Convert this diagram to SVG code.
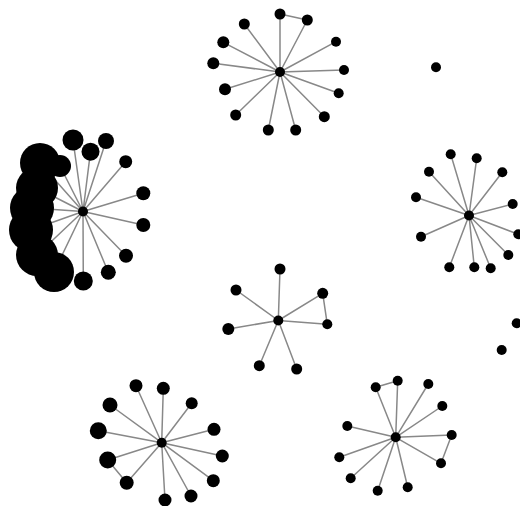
<svg xmlns="http://www.w3.org/2000/svg" width="520" height="506" viewBox="0 0 520 506">
<style>
.e{stroke:#888;stroke-width:1.5;fill:none}
.n circle{fill:#000}
</style>
<rect width="520" height="506" fill="#fff"/>
<g id="edges" class="e">
<path d="M280,72L280,14M280,72L307.3,20M280,14L307.3,20M280,72L244.3,24M280,72L336,41.7M280,72L223.3,42.3M280,72L213.3,63.3M280,72L344,70M280,72L225,89.3M280,72L338.7,93.3M280,72L235.7,115M280,72L324.3,116.7M280,72L268.3,130M280,72L295.7,130"/>
<path d="M83,211.5L73,140M83,211.5L106,141M83,211.5L90.5,151.7M83,211.5L125.7,161.7M83,211.5L143.3,193.3M83,211.5L143.3,225M83,211.5L126,255.7M83,211.5L108.3,272.3M83,211.5L83.3,281M83,211.5L40,163M83,211.5L60,166M83,211.5L37,188M83,211.5L32,208M83,211.5L31,230M83,211.5L37,255M83,211.5L54,272"/>
<path d="M469,215.5L450.7,154.3M469,215.5L476.7,158.3M469,215.5L429,171.7M469,215.5L502.3,172.3M469,215.5L416,197.3M469,215.5L512.7,204M469,215.5L421,236.7M469,215.5L518.3,234.3M469,215.5L508.3,255M469,215.5L449.3,267.3M469,215.5L474.3,267.3M469,215.5L490.7,268.3"/>
<path d="M278.3,320.5L280,269M278.3,320.5L236,290M278.3,320.5L322.7,293.3M278.3,320.5L327.3,324.3M322.7,293.3L327.3,324.3M278.3,320.5L228.3,329M278.3,320.5L259.3,365.7M278.3,320.5L296.7,369"/>
<path d="M161.7,442.7L136,385.7M161.7,442.7L163.3,388.3M161.7,442.7L191.7,403.3M161.7,442.7L110,405M161.7,442.7L214,429.3M161.7,442.7L98.3,430.7M161.7,442.7L222.3,456M161.7,442.7L107.7,460M161.7,442.7L126.7,482.7M107.7,460L126.7,482.7M161.7,442.7L213.3,480.7M161.7,442.7L191,496M161.7,442.7L165,500"/>
<path d="M395.7,437.3L397.7,380.7M395.7,437.3L375.7,387.3M375.7,387.3L397.7,380.7M395.7,437.3L428.3,384M395.7,437.3L442.3,406M395.7,437.3L347.3,426M395.7,437.3L451.7,435M395.7,437.3L339.3,457.3M395.7,437.3L441,463.3M441,463.3L451.7,435M395.7,437.3L350.7,478.3M395.7,437.3L377.7,490.7M395.7,437.3L407.7,487.3"/>
</g>
<g id="cluster-top" class="n">
<circle cx="280" cy="72" r="5"/>
<circle cx="280" cy="14" r="5.5"/>
<circle cx="307.3" cy="20" r="5.5"/>
<circle cx="244.3" cy="24" r="5.5"/>
<circle cx="336" cy="41.7" r="5"/>
<circle cx="223.3" cy="42.3" r="6"/>
<circle cx="213.3" cy="63.3" r="6"/>
<circle cx="344" cy="70" r="5"/>
<circle cx="225" cy="89.3" r="6"/>
<circle cx="338.7" cy="93.3" r="5"/>
<circle cx="235.7" cy="115" r="5.5"/>
<circle cx="324.3" cy="116.7" r="5.5"/>
<circle cx="268.3" cy="130" r="5.5"/>
<circle cx="295.7" cy="130" r="5.5"/>
</g>
<g id="cluster-left" class="n">
<circle cx="83" cy="211.5" r="5"/>
<circle cx="40" cy="163" r="20"/>
<circle cx="60" cy="166" r="11"/>
<circle cx="37" cy="188" r="21"/>
<circle cx="32" cy="208" r="22"/>
<circle cx="31" cy="230" r="22"/>
<circle cx="37" cy="255" r="21"/>
<circle cx="54" cy="272" r="20"/>
<circle cx="73" cy="140" r="10.5"/>
<circle cx="106" cy="141" r="8"/>
<circle cx="90.5" cy="151.7" r="9"/>
<circle cx="125.7" cy="161.7" r="6.5"/>
<circle cx="143.3" cy="193.3" r="7"/>
<circle cx="143.3" cy="225" r="7"/>
<circle cx="126" cy="255.7" r="7"/>
<circle cx="108.3" cy="272.3" r="7.5"/>
<circle cx="83.3" cy="281" r="9.5"/>
</g>
<g id="cluster-right" class="n">
<circle cx="469" cy="215.5" r="5"/>
<circle cx="450.7" cy="154.3" r="5"/>
<circle cx="476.7" cy="158.3" r="5"/>
<circle cx="429" cy="171.7" r="5"/>
<circle cx="502.3" cy="172.3" r="5"/>
<circle cx="416" cy="197.3" r="5"/>
<circle cx="512.7" cy="204" r="5"/>
<circle cx="421" cy="236.7" r="5"/>
<circle cx="518.3" cy="234.3" r="5"/>
<circle cx="508.3" cy="255" r="5"/>
<circle cx="449.3" cy="267.3" r="5"/>
<circle cx="474.3" cy="267.3" r="5"/>
<circle cx="490.7" cy="268.3" r="5"/>
</g>
<g id="cluster-middle" class="n">
<circle cx="278.3" cy="320.5" r="5"/>
<circle cx="280" cy="269" r="5.5"/>
<circle cx="236" cy="290" r="5.5"/>
<circle cx="322.7" cy="293.3" r="5.5"/>
<circle cx="327.3" cy="324.3" r="5"/>
<circle cx="228.3" cy="329" r="6"/>
<circle cx="259.3" cy="365.7" r="5.5"/>
<circle cx="296.7" cy="369" r="5.5"/>
</g>
<g id="cluster-bottom-left" class="n">
<circle cx="161.7" cy="442.7" r="5"/>
<circle cx="136" cy="385.7" r="6.5"/>
<circle cx="163.3" cy="388.3" r="6.5"/>
<circle cx="191.7" cy="403.3" r="6"/>
<circle cx="110" cy="405" r="7.5"/>
<circle cx="214" cy="429.3" r="6.5"/>
<circle cx="98.3" cy="430.7" r="8.5"/>
<circle cx="222.3" cy="456" r="6.5"/>
<circle cx="107.7" cy="460" r="8.5"/>
<circle cx="126.7" cy="482.7" r="7"/>
<circle cx="213.3" cy="480.7" r="6.5"/>
<circle cx="191" cy="496" r="6.5"/>
<circle cx="165" cy="500" r="6.5"/>
</g>
<g id="cluster-bottom-right" class="n">
<circle cx="395.7" cy="437.3" r="5"/>
<circle cx="397.7" cy="380.7" r="5"/>
<circle cx="375.7" cy="387.3" r="5"/>
<circle cx="428.3" cy="384" r="5"/>
<circle cx="442.3" cy="406" r="5"/>
<circle cx="347.3" cy="426" r="5"/>
<circle cx="451.7" cy="435" r="5"/>
<circle cx="339.3" cy="457.3" r="5"/>
<circle cx="441" cy="463.3" r="5"/>
<circle cx="350.7" cy="478.3" r="5"/>
<circle cx="377.7" cy="490.7" r="5"/>
<circle cx="407.7" cy="487.3" r="5"/>
</g>
<g id="isolated" class="n">
<circle cx="436" cy="67.3" r="5"/>
<circle cx="516.7" cy="323.3" r="5"/>
<circle cx="501.7" cy="350" r="5"/>
</g>
</svg>
